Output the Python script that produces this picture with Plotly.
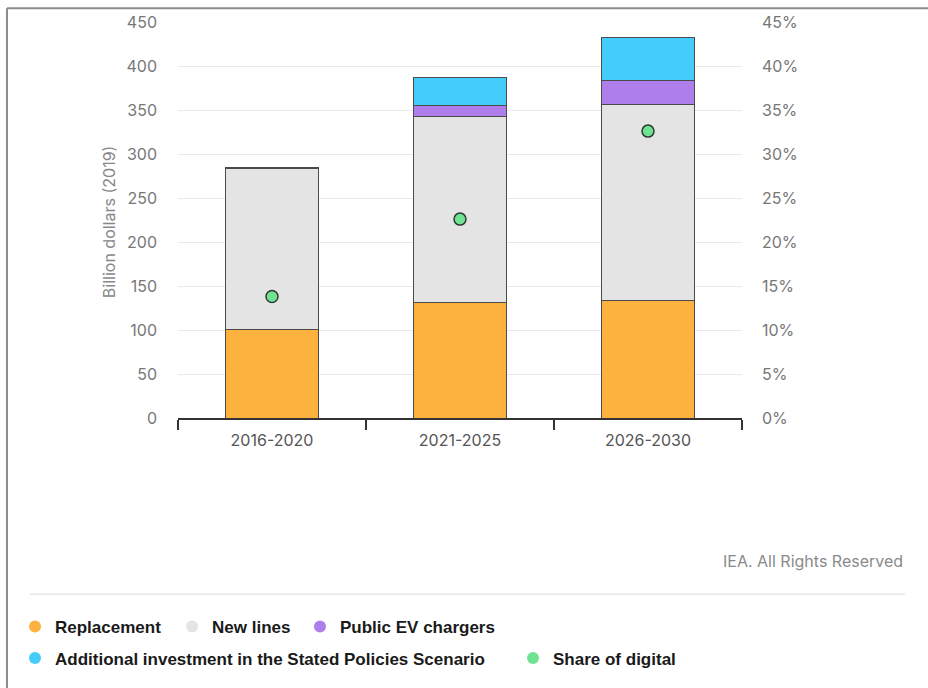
import plotly.graph_objects as go

categories = ["2016-2020", "2021-2025", "2026-2030"]
replacement = [101, 131, 133]
new_lines = [183, 212, 223]
public_ev = [1.2, 12, 27]
additional_steps = [0, 32, 49]
share_digital = [0.138, 0.226, 0.326]

y_ticks = [0, 50, 100, 150, 200, 250, 300, 350, 400, 450]
y2_ticks = [0, 0.05, 0.10, 0.15, 0.20, 0.25, 0.30, 0.35, 0.40, 0.45]

C_REPL = "#FDB13F"
C_NEW = "#E4E4E4"
C_EV = "#AE7FEA"
C_ADD = "#44CDFB"
C_DIG = "#6FE391"
OUTLINE = "#4a4a4a"

FONT = "Inter"
TICK_COLOR = "#777777"

fig = go.Figure()

series = [
    ("Replacement", replacement, C_REPL),
    ("New lines", new_lines, C_NEW),
    ("Public EV chargers", public_ev, C_EV),
    ("Additional investment in the Stated Policies Scenario", additional_steps, C_ADD),
]
for name, vals, col in series:
    fig.add_trace(go.Bar(
        x=categories, y=vals, name=name, width=0.49,
        marker=dict(color=col, line=dict(color=OUTLINE, width=1)),
        showlegend=False,
    ))

fig.add_trace(go.Scatter(
    x=categories, y=share_digital, yaxis="y2", mode="markers",
    name="Share of digital", showlegend=False,
    marker=dict(color=C_DIG, size=12, line=dict(color="#2f3a33", width=1.5)),
))

# Legend entries (circle symbols), each in its own legend box for exact placement
legend_items = [
    ("Replacement", C_REPL, "legend", -0.289, -0.5277),
    ("New lines", C_NEW, "legend2", -0.0106, -0.5277),
    ("Public EV chargers", C_EV, "legend3", 0.2163, -0.5277),
    ("Additional investment in the Stated Policies Scenario", C_ADD, "legend4", -0.289, -0.6074),
    ("Share of digital", C_DIG, "legend5", 0.594, -0.6074),
]
legend_font = dict(family="Liberation Sans", size=17, color="#1a1a1a", weight="bold")

legend_layouts = {}
for name, col, lg, lx, ly in legend_items:
    fig.add_trace(go.Scatter(
        x=[None], y=[None], mode="markers", name=name, legend=lg,
        marker=dict(color=col, size=10, symbol="circle"),
        showlegend=True,
    ))
    legend_layouts[lg] = dict(
        orientation="h", x=lx, y=ly, xanchor="left", yanchor="middle",
        font=legend_font, bgcolor="rgba(0,0,0,0)", itemsizing="constant",
    )

fig.update_layout(
    width=928, height=688,
    margin=dict(l=178, r=186, t=22, b=261),
    paper_bgcolor="white", plot_bgcolor="white",
    barmode="stack",
    font=dict(family=FONT, size=16, color=TICK_COLOR),
    xaxis=dict(
        type="category", range=[-0.5, 2.5],
        showgrid=False, showline=True, linecolor="#333333", linewidth=1.5,
        ticks="outside", tickson="boundaries", ticklen=10, tickcolor="#333333", tickwidth=1.5,
        ticklabelstandoff=7,
        tickfont=dict(family=FONT, size=16, color="#555555"),
    ),
    yaxis=dict(
        range=[0, 450], tickvals=y_ticks,
        showgrid=True, gridcolor="#E8E8E8", gridwidth=1,
        zeroline=False, showline=False,
        ticklabelstandoff=20,
        tickfont=dict(family=FONT, size=16, color=TICK_COLOR),
    ),
    yaxis2=dict(
        range=[0, 0.45], tickvals=y2_ticks, tickformat=".0%",
        overlaying="y", side="right", showgrid=False, zeroline=False, showline=False,
        ticklabelstandoff=19,
        tickfont=dict(family=FONT, size=16, color=TICK_COLOR),
    ),
    annotations=[
        dict(text="Billion dollars (2019)", textangle=-90, xref="paper", yref="paper",
             x=-0.1223, y=0.4946, xanchor="center", yanchor="middle", showarrow=False,
             font=dict(family=FONT, size=16, color="#888888")),
        dict(text="IEA. All Rights Reserved", xref="paper", yref="paper",
             x=1.2885, y=-0.3605, xanchor="right", yanchor="middle", showarrow=False,
             font=dict(family=FONT, size=16, color="#8a8a8a")),
    ],
    shapes=[
        # frame (top and left)
        dict(type="line", xref="paper", yref="paper", x0=-0.3032, x1=1.34, y0=1.0346, y1=1.0346,
             line=dict(color="#8c8c8c", width=2)),
        dict(type="line", xref="paper", yref="paper", x0=-0.3032, x1=-0.3032, y0=1.0346, y1=-0.7,
             line=dict(color="#8c8c8c", width=2)),
        # separator above legend
        dict(type="line", xref="paper", yref="paper", x0=-0.2624, x1=1.289, y0=-0.4452, y1=-0.4452,
             line=dict(color="#E6E6E6", width=1.5)),
    ],
)
fig.update_layout(**legend_layouts)

fig.write_html("out.html", config={"displayModeBar": False},
               post_script="document.body.style.margin='0px';")
